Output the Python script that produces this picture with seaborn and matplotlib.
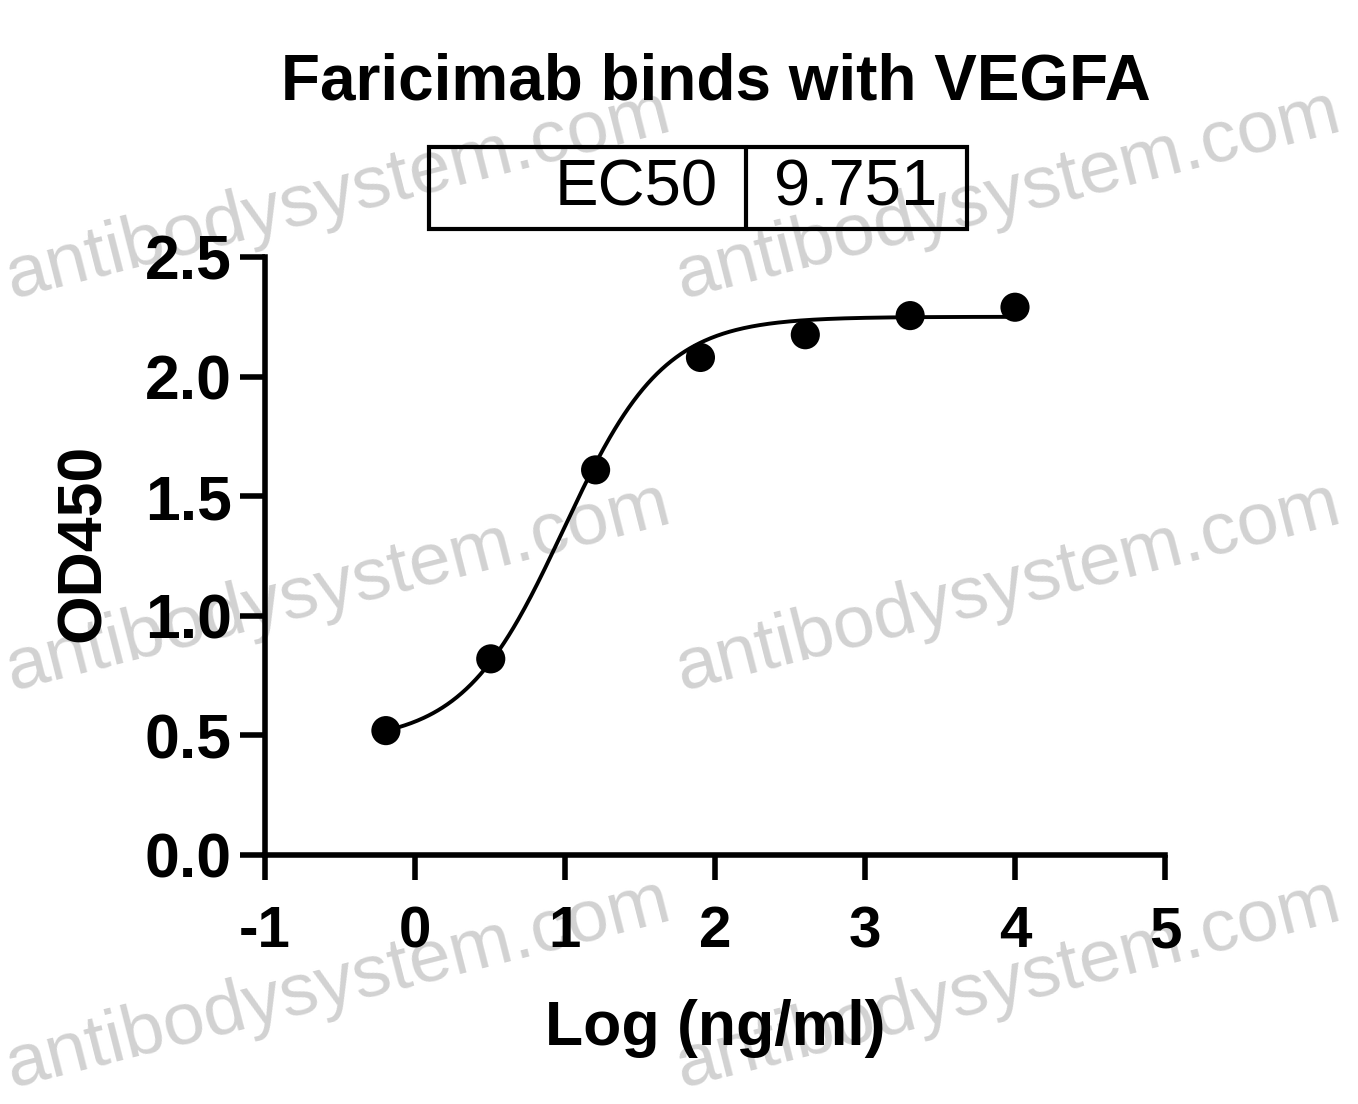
import numpy as np
import pandas as pd
import matplotlib
matplotlib.use("Agg")
import matplotlib.pyplot as plt
import seaborn as sns
from matplotlib.patches import Rectangle
from matplotlib.lines import Line2D

# data
log_conc = [-0.194, 0.505, 1.204, 1.903, 2.602, 3.301, 4.0]
od450 = [0.52, 0.82, 1.61, 2.08, 2.175, 2.255, 2.29]

# 4PL fit drawn through the points
ec50 = 9.751
fit_bottom = 0.47
fit_top = 2.25
fit_hill = 1.3

x_ticks = [-1, 0, 1, 2, 3, 4, 5]
y_ticks = [0.0, 0.5, 1.0, 1.5, 2.0, 2.5]
y_ticklabels = ["0.0", "0.5", "1.0", "1.5", "2.0", "2.5"]

title = "Faricimab binds with VEGFA"
xlabel = "Log (ng/ml)"
ylabel = "OD450"
watermark = "antibodysystem.com"

sns.set_style("ticks")
plt.rcParams['font.family'] = ['Liberation Sans', 'DejaVu Sans']
plt.rcParams.update({'text.color': 'black', 'axes.labelcolor': 'black',
                     'xtick.color': 'black', 'ytick.color': 'black',
                     'axes.edgecolor': 'black'})

W, H = 1358, 1104
fig = plt.figure(figsize=(W / 100, H / 100), dpi=100)

def fx(px):
    return px / W

def fy(py):
    return 1 - py / H

# watermark behind the plot
for py in [298, 690, 1087]:
    for px in [12, 682]:
        fig.text(fx(px), fy(py), watermark, fontsize=54, color='#d2d2d2',
                 rotation=14.3, rotation_mode='anchor', ha='left', va='baseline',
                 zorder=-1)

ax = fig.add_axes([fx(265), fy(855), (1165 - 265) / W, (855 - 257) / H])
ax.patch.set_alpha(0)

xfit = np.linspace(min(log_conc), max(log_conc), 400)
yfit = fit_bottom + (fit_top - fit_bottom) / (1 + 10 ** ((np.log10(ec50) - xfit) * fit_hill))
fit = pd.DataFrame({'x': xfit, 'y': yfit})
pts = pd.DataFrame({'x': log_conc, 'y': od450})

sns.lineplot(data=fit, x='x', y='y', color='black', lw=2.8, ax=ax)
sns.scatterplot(data=pts, x='x', y='y', color='black', s=440, edgecolor='none',
                ax=ax, clip_on=False, zorder=3)

ax.set_xlim(-1, 5)
ax.set_ylim(0, 2.5)
ax.set_xticks(x_ticks)
ax.set_xticklabels([str(t) for t in x_ticks])
ax.set_yticks(y_ticks)
ax.set_yticklabels(y_ticklabels)
sns.despine(ax=ax)
for s in ['left', 'bottom']:
    ax.spines[s].set_linewidth(4.0)
ax.tick_params(axis='both', direction='out', width=4.0, length=18, colors='black')
ax.tick_params(axis='y', labelsize=45, pad=6)
ax.tick_params(axis='x', labelsize=42, pad=18)
for lab in ax.get_xticklabels() + ax.get_yticklabels():
    lab.set_fontweight('bold')

ax.set_xlabel(xlabel, fontsize=45, fontweight='bold', va='center')
ax.set_ylabel(ylabel, fontsize=45, fontweight='bold', va='center')
ax.xaxis.set_label_coords(0.5, -(1028 - 855) / 598)
ax.yaxis.set_label_coords((83 - 265) / 900, (855 - 543) / 598)

fig.text(fx(716), fy(82), title, fontsize=46, fontweight='bold', ha='center', va='center')

# EC50 table
lw = 3.0
fig.add_artist(Rectangle((fx(429), fy(229)), fx(967) - fx(429), fy(147) - fy(229),
                         transform=fig.transFigure, fill=False, lw=lw, ec='black'))
fig.add_artist(Line2D([fx(746), fx(746)], [fy(147), fy(229)], transform=fig.transFigure,
                      lw=lw, color='black'))
fig.text(fx(718), fy(188), "EC50", fontsize=47, ha='right', va='center')
fig.text(fx(856), fy(188), f"{ec50}", fontsize=47, ha='center', va='center')

fig.savefig("out.png", dpi=100)
